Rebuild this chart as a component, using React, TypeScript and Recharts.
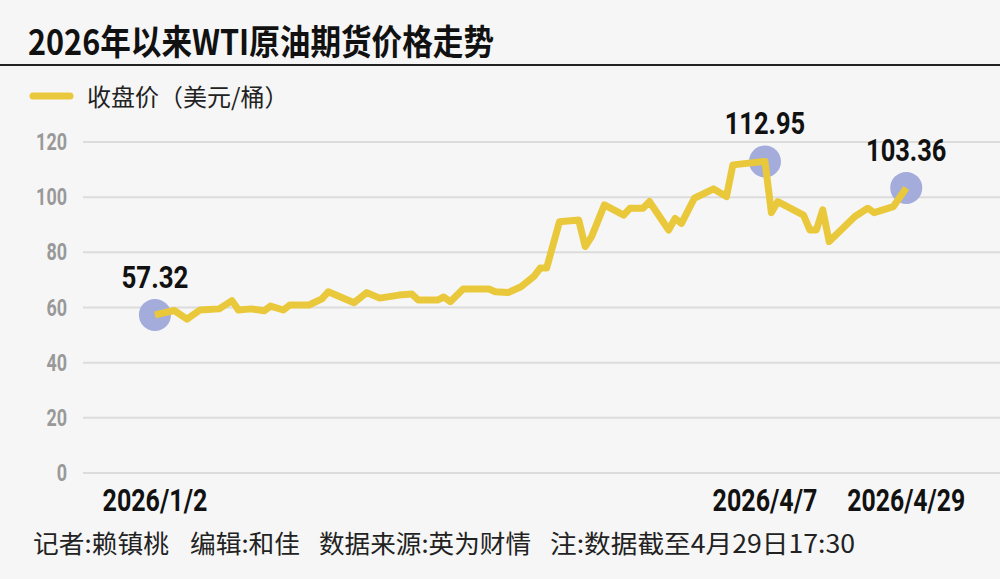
import { LineChart, Line, XAxis, YAxis, CartesianGrid } from 'recharts';

// WTI crude oil futures closing price, 2026 YTD (USD/barrel)
const dates = [
  '2026-01-02', '2026-01-05', '2026-01-07', '2026-01-09', '2026-01-12', '2026-01-14', '2026-01-15',
  '2026-01-17', '2026-01-19', '2026-01-20', '2026-01-22', '2026-01-23', '2026-01-26', '2026-01-28',
  '2026-01-29', '2026-02-02', '2026-02-04', '2026-02-06', '2026-02-09', '2026-02-11', '2026-02-12',
  '2026-02-15', '2026-02-16', '2026-02-17', '2026-02-19', '2026-02-23', '2026-02-24', '2026-02-26',
  '2026-02-28', '2026-03-02', '2026-03-03', '2026-03-04', '2026-03-06', '2026-03-09', '2026-03-10',
  '2026-03-11', '2026-03-13', '2026-03-16', '2026-03-17', '2026-03-19', '2026-03-20', '2026-03-23',
  '2026-03-24', '2026-03-25', '2026-03-27', '2026-03-30', '2026-04-01', '2026-04-02', '2026-04-07',
  '2026-04-08', '2026-04-09', '2026-04-13', '2026-04-14', '2026-04-15', '2026-04-16', '2026-04-17',
  '2026-04-21', '2026-04-23', '2026-04-24', '2026-04-27', '2026-04-29',
];
const closes = [
  57.32, 58.9, 55.8, 59.1, 59.5, 62.5, 59.1,
  59.5, 58.8, 60.5, 59.1, 60.9, 60.9, 63.1,
  65.7, 61.7, 65.4, 63.4, 64.5, 64.9, 62.7,
  62.7, 63.8, 62.1, 66.7, 66.7, 65.7, 65.4,
  67.5, 71.2, 74.3, 74.3, 91.1, 91.7, 82.1,
  85.7, 97.2, 93.5, 96.0, 96.0, 98.4, 88.1,
  92.3, 90.5, 99.6, 103.0, 100.2, 111.7, 112.95,
  94.4, 98.4, 93.5, 88.1, 88.1, 95.4, 83.9,
  93.0, 96.0, 94.4, 96.6, 103.36,
];
const highlightDates = ['2026-01-02', '2026-04-07', '2026-04-29'];
const xTickDates = ['2026-01-02', '2026-04-07', '2026-04-29'];
const yTicks = [0, 20, 40, 60, 80, 100, 120];

const DAY = 86400000;
const t0 = Date.parse('2026-01-02');
const dayOf = (s: string) => Math.round((Date.parse(s) - t0) / DAY);
const fmtDate = (day: number) => {
  const d = new Date(t0 + day * DAY);
  return `${d.getUTCFullYear()}/${d.getUTCMonth() + 1}/${d.getUTCDate()}`;
};

const data = dates.map((d, i) => ({
  day: dayOf(d),
  close: closes[i],
  mark: highlightDates.includes(d),
}));

const NUM_FONT = "'Roboto', 'Liberation Sans', sans-serif";
const CJK = "'Noto Sans CJK SC', sans-serif";
const YELLOW = '#e9c93b';

// condensed-looking text: squeeze glyphs to a fixed width per character
function Narrow({ x, y, text, perChar, ...rest }: any) {
  return (
    <text x={x} y={y} textLength={text.length * perChar} lengthAdjust="spacingAndGlyphs" {...rest}>
      {text}
    </text>
  );
}

function XTick(props: any) {
  const { x, y, payload } = props;
  const label = fmtDate(payload.value);
  const w = label.length * 13.1;
  return (
    <Narrow x={x - w / 2} y={y + 23} text={label} perChar={13.1}
      fontFamily={NUM_FONT} fontWeight="bold" fontSize={32} fill="#111" />
  );
}

function YTick(props: any) {
  const { x, y, payload } = props;
  const label = String(payload.value);
  const w = label.length * 10.3;
  return (
    <Narrow x={x - w} y={y + 8} text={label} perChar={10.3}
      fontFamily={NUM_FONT} fontWeight="bold" fontSize={23} fill="#999" />
  );
}

function MarkDot(props: any) {
  const { cx, cy, payload, index } = props;
  if (!payload || !payload.mark) return <g key={`d${index}`} />;
  const label = payload.close.toFixed(2);
  const w = label.length * 13.4;
  return (
    <g key={`d${index}`}>
      <circle cx={cx} cy={cy} r={16} fill="#a3acdb" />
      <Narrow x={cx - w / 2} y={cy - 27} text={label} perChar={13.4}
        fontFamily={NUM_FONT} fontWeight="bold" fontSize={31} fill="#111" />
    </g>
  );
}

export default function App() {
  return (
    <div style={{ position: 'absolute', left: 0, top: 0, width: 1000, height: 579, background: '#f6f6f6', overflow: 'hidden' }}>
      <svg width={1000} height={579} style={{ position: 'absolute', left: 0, top: 0 }}>
        <text x={28} y={55} textLength={466} lengthAdjust="spacingAndGlyphs" fontFamily={CJK} fontWeight="bold" fontSize={35} fill="#111">
          2026年以来WTI原油期货价格走势
        </text>
        <line x1={0} x2={1000} y1={65} y2={65} stroke="#222" strokeWidth={2} />
        <line x1={33} x2={70} y1={96} y2={96} stroke={YELLOW} strokeWidth={7} strokeLinecap="round" />
        <text x={87} y={106} fontFamily={CJK} fontSize={24} fill="#222">
          收盘价（美元/桶）
        </text>
        <g fontFamily={CJK} fontSize={25} fill="#222">
          <text x={33} y={553} textLength={136} lengthAdjust="spacingAndGlyphs">记者:赖镇桃</text>
          <text x={190} y={553} textLength={110} lengthAdjust="spacingAndGlyphs">编辑:和佳</text>
          <text x={319} y={553} textLength={212} lengthAdjust="spacingAndGlyphs">数据来源:英为财情</text>
          <text x={550} y={553} textLength={305} lengthAdjust="spacingAndGlyphs">注:数据截至4月29日17:30</text>
        </g>
      </svg>
      <div style={{ position: 'absolute', left: 0, top: 0 }}>
        <LineChart width={1000} height={579} data={data} margin={{ top: 142, right: 0, bottom: 0, left: 0 }}>
          <CartesianGrid vertical={false} stroke="#dcdcdc" strokeWidth={2} />
          <XAxis
            dataKey="day"
            type="number"
            domain={[-11.2, 131.6]}
            allowDataOverflow
            ticks={xTickDates.map(dayOf)}
            interval={0}
            axisLine={false}
            tickLine={false}
            tickSize={0}
            tickMargin={15}
            height={106}
            tick={<XTick />}
          />
          <YAxis
            domain={[0, 120]}
            ticks={yTicks}
            width={83}
            axisLine={false}
            tickLine={false}
            tickSize={0}
            tickMargin={16}
            tick={<YTick />}
          />
          <Line dataKey="close" stroke="none" dot={MarkDot} activeDot={false} isAnimationActive={false} />
          <Line
            dataKey="close"
            stroke={YELLOW}
            strokeWidth={7}
            strokeLinejoin="round"
            dot={false}
            activeDot={false}
            isAnimationActive={false}
            zIndex={1500}
          />
        </LineChart>
      </div>
    </div>
  );
}
